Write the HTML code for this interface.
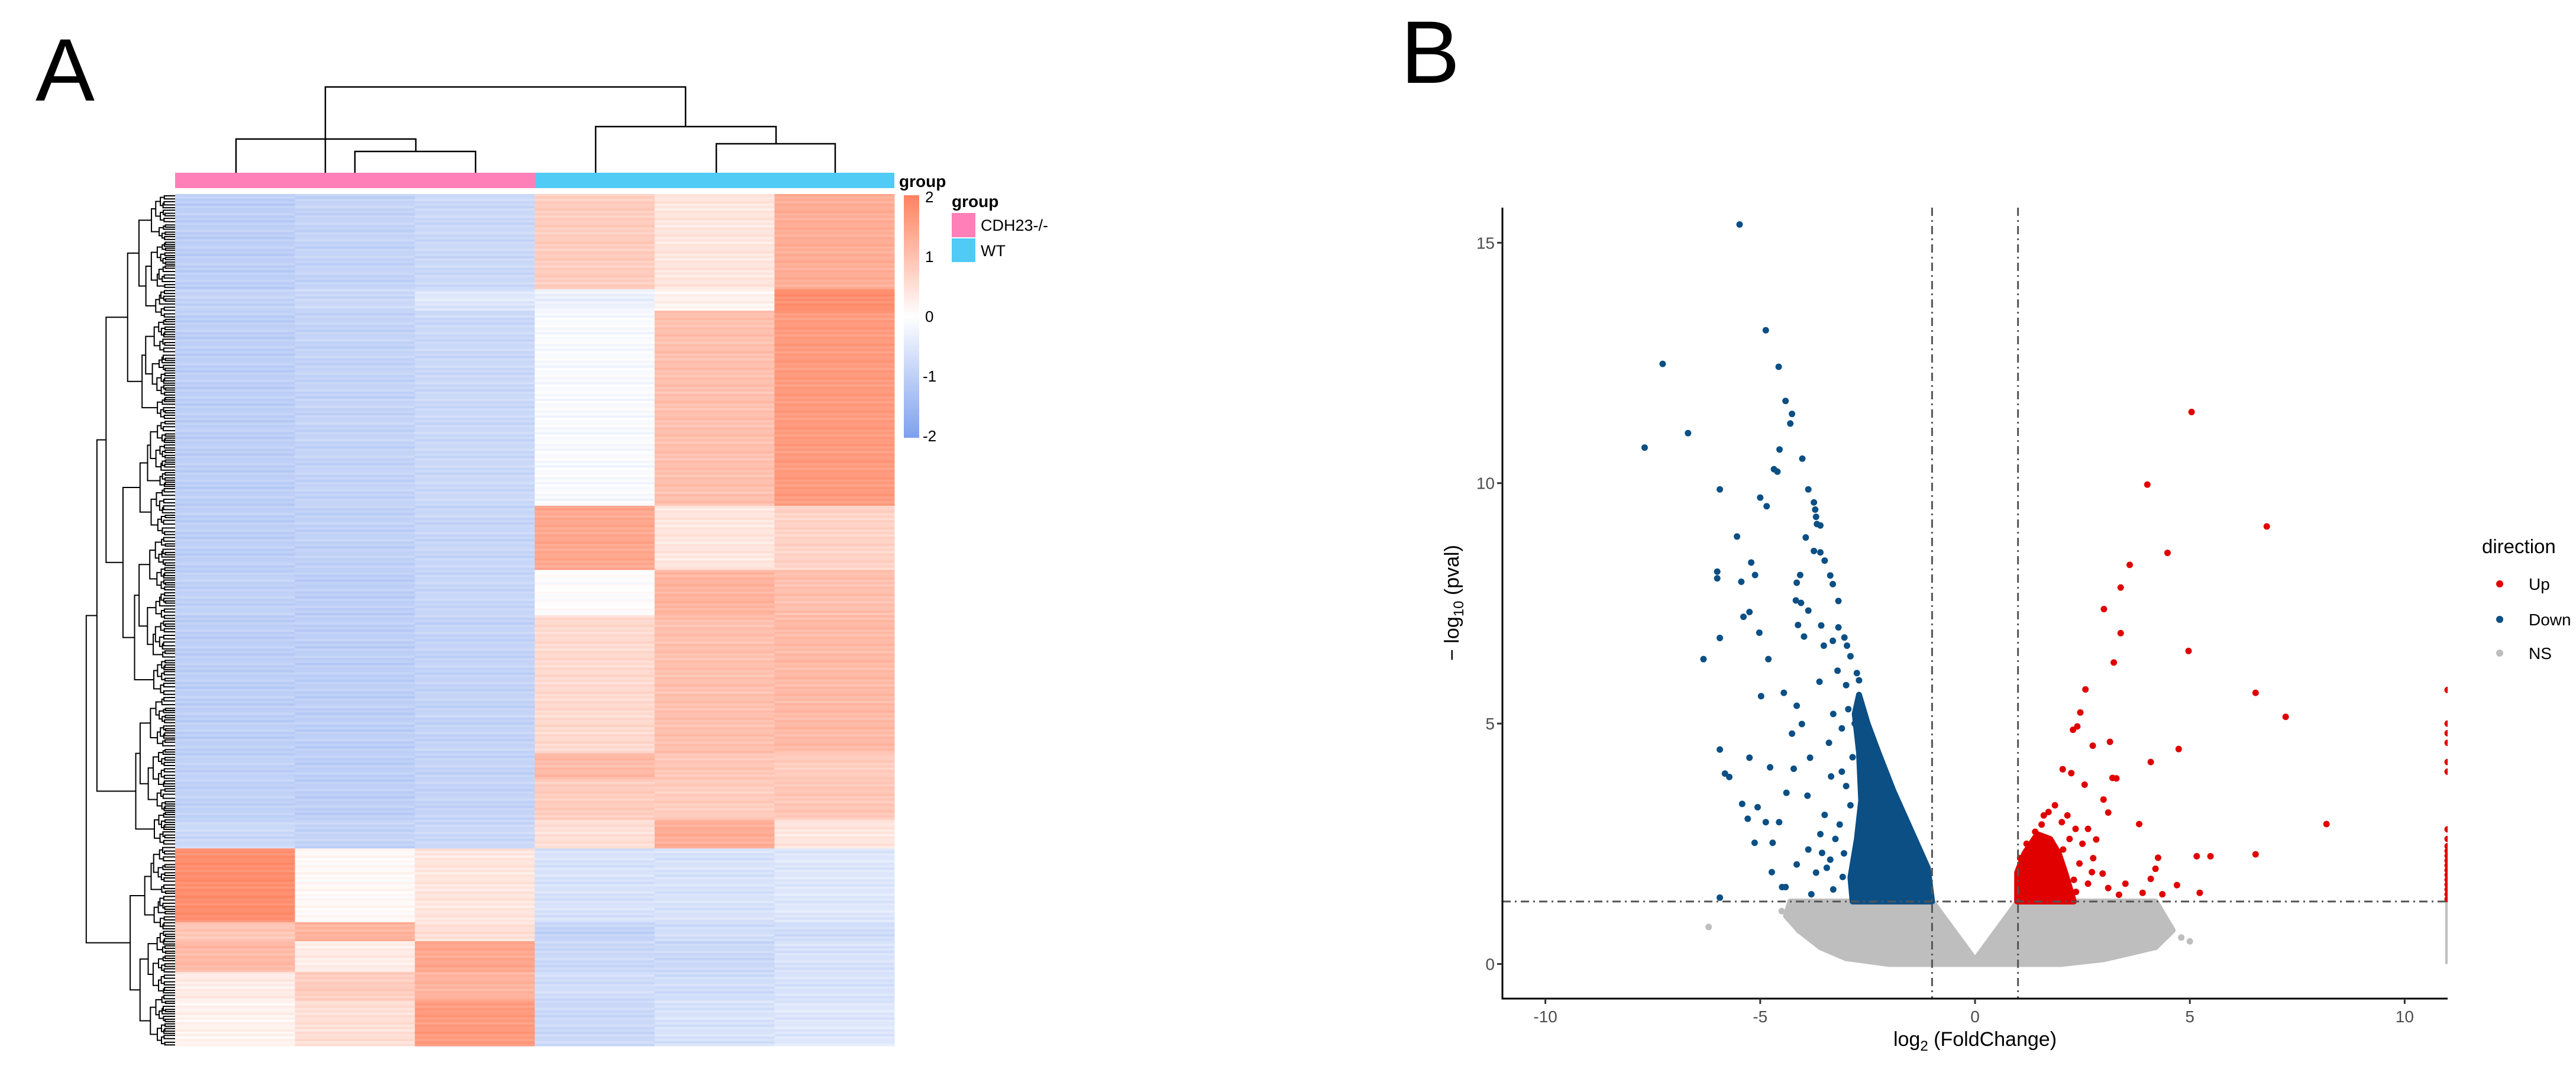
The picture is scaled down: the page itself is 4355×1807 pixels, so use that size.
<!DOCTYPE html>
<html><head><meta charset="utf-8"><style>
html,body{margin:0;padding:0;background:#fff;}
svg{display:block;font-family:"Liberation Sans",Arial,sans-serif;}
</style></head><body>
<svg id="fig" width="4355" height="1807" viewBox="0 0 4355 1807" xmlns="http://www.w3.org/2000/svg">
<rect width="4355" height="1807" fill="#fff"/>
<text x="60" y="170" font-size="150" fill="#000">A</text>
<text x="2368" y="140" font-size="150" fill="#000">B</text>
<g id="heat"></g>
<g id="rowtree" stroke="#000" stroke-width="2" fill="none"></g>
<g id="coltree" stroke="#000" stroke-width="2.5" fill="none">
  <polyline points="550,292 550,147 1159,147 1159,214" />
  <polyline points="399,292 399,235 703,235 703,256" />
  <polyline points="600,292 600,256 804,256 804,292" />
  <polyline points="1007,292 1007,214 1312,214 1312,243" />
  <polyline points="1211,292 1211,243 1412,243 1412,292" />
</g>
<rect x="296" y="292" width="610" height="26" fill="#FF7FB8"/>
<rect x="906" y="292" width="606" height="26" fill="#4FCBF5"/>
<text x="1520" y="316" font-size="28" fill="#000" font-weight="bold">group</text>
<defs><linearGradient id="cb" x1="0" y1="0" x2="0" y2="1">
<stop offset="0" stop-color="rgb(255,130,95)"/><stop offset="0.5" stop-color="#fff"/><stop offset="1" stop-color="rgb(125,160,238)"/></linearGradient></defs>
<rect x="1528" y="330" width="26" height="410" fill="url(#cb)"/>
<g font-size="26" fill="#000">
<text x="1564" y="342">2</text><text x="1564" y="443">1</text><text x="1564" y="544">0</text><text x="1560" y="645">-1</text><text x="1560" y="746">-2</text></g>
<text x="1609" y="350" font-size="28" font-weight="bold">group</text>
<rect x="1609" y="360" width="40" height="41" fill="#FF7FB8"/>
<rect x="1609" y="403" width="40" height="40" fill="#4FCBF5"/>
<text x="1658" y="390" font-size="27">CDH23-/-</text>
<text x="1658" y="433" font-size="27">WT</text>

<g id="volcano"></g>
<text x="3339" y="1768" font-size="34" fill="#000" text-anchor="middle">log<tspan font-size="24" dy="8">2</tspan><tspan dy="-8"> (FoldChange)</tspan></text>
<text transform="translate(2466,1019) rotate(-90)" font-size="34" fill="#000" text-anchor="middle">− log<tspan font-size="24" dy="8">10</tspan><tspan dy="-8"> (pval)</tspan></text>
<text x="4196" y="935" font-size="33">direction</text>
<circle cx="4226" cy="987" r="6" fill="#E00000"/>
<circle cx="4226" cy="1047" r="6" fill="#0B4F85"/>
<circle cx="4226" cy="1104" r="6" fill="#BEBEBE"/>
<text x="4275" y="997" font-size="28">Up</text>
<text x="4275" y="1057" font-size="28">Down</text>
<text x="4275" y="1114" font-size="28">NS</text>
</svg>
<script>
// ---------- Heatmap data ----------
const blockRows = [40,9,82,27,19,58,11,17,12,31,8,13,12,19];
const col1 = [-1.0,-0.9,-1.0,-1.0,-0.95,-1.0,-0.95,-0.95,-0.8,1.8,0.9,1.1,0.3,0.2];
const col2 = [-0.9,-0.8,-0.9,-0.95,-1.0,-1.0,-1.0,-1.0,-0.9,0.1,1.2,0.3,0.8,0.5];
const col3 = [-0.8,-0.5,-0.8,-0.85,-0.85,-0.9,-0.9,-0.9,-0.8,0.4,0.5,1.4,1.2,1.6];
const col4 = [0.8,-0.3,-0.1,1.4,0.0,0.6,1.1,0.8,0.5,-0.6,-0.9,-0.8,-0.7,-0.8];
const col5 = [0.4,0.2,1.0,0.4,1.2,1.0,0.9,0.8,1.3,-0.6,-0.7,-0.8,-0.7,-0.6];
const col6 = [1.3,1.8,1.6,0.7,1.0,1.1,0.8,0.9,0.4,-0.5,-0.7,-0.6,-0.6,-0.5];
const rowTexture = [0,0.6,-0.4,0.2,-0.7,0.4,-0.1];

const NS='http://www.w3.org/2000/svg';
function mk(tag,attrs,parent){const e=document.createElementNS(NS,tag);for(const k in attrs)e.setAttribute(k,attrs[k]);parent.appendChild(e);return e;}
function heatColor(v){v=Math.max(-2,Math.min(2,v));let t=Math.abs(v)/2;
  const c=v<0?[125,160,238]:[255,130,95];
  return 'rgb('+[0,1,2].map(i=>Math.round(255+(c[i]-255)*t)).join(',')+')';}
const hm=document.getElementById('heat');
const HX0=296,HX1=1512,HY0=328,HY1=1768;
const cols=[col1,col2,col3,col4,col5,col6];
const totalRows=blockRows.reduce((a,b)=>a+b,0);
const rowH=(HY1-HY0)/totalRows, colW=(HX1-HX0)/6;
let r=0;
blockRows.forEach((n,b)=>{
  for(let i=0;i<n;i++,r++){
    cols.forEach((arr,c)=>{
      const v=arr[b]+rowTexture[(r+c*3)%rowTexture.length]*0.22;
      const e=mk('rect',{x:HX0+c*colW,y:HY0+r*rowH,width:colW+0.5,height:rowH+0.6,fill:heatColor(v)},hm);
      
      
    });
  }
});
// ---------- Row dendrogram (structure) ----------
const rt=document.getElementById('rowtree');
const splits=[0.77,0.45,0.55,0.38,0.62,0.5,0.42,0.58];
let si=0;
function tree(y0,y1,depth){
  const span=y1-y0;
  if(span<7){ mk('line',{x1:HX0-10,y1:(y0+y1)/2,x2:HX0,y2:(y0+y1)/2},rt); return {y:(y0+y1)/2,x:HX0-10}; }
  const f=depth===0?0.765:splits[(si++)%splits.length];
  const ym=y0+span*f;
  const a=tree(y0,ym,depth+1), b=tree(ym,y1,depth+1);
  const x=HX0-Math.min(145,3.8*Math.sqrt(span))-6;
  mk('polyline',{points:`${a.x},${a.y} ${x},${a.y} ${x},${b.y} ${b.x},${b.y}`},rt);
  return {x:x,y:(a.y+b.y)/2};
}
tree(HY0,HY1,0);

// ---------- Volcano data ----------
const downX=[-5.48,-4.87,-7.27,-4.57,-4.41,-4.26,-4.30,-6.68,-7.69,-4.55,-4.02,-4.68,-4.60,-5.94,-3.88,-5.0,-4.85,-3.75,-3.72,-3.70,-3.68,-3.60,-5.54,-3.94,-3.75,-3.60,-3.50,-5.21,-6.0,-6.0,-5.12,-5.44,-4.07,-4.15,-3.37,-3.31,-3.18,-4.17,-4.05,-3.88,-5.25,-5.39,-4.12,-3.58,-3.18,-5.02,-3.98,-5.94,-3.52,-3.31,-3.04,-2.98,-4.81,-6.32,-4.98,-4.45,-4.15,-3.62,-4.03,-5.94,-4.26,-5.25,-4.77,-5.82,-5.72,-4.22,-3.84,-4.39,-5.42,-5.06,-5.29,-4.87,-4.56,-5.13,-4.71,-3.88,-4.73,-4.15,-4.49,-4.41,-5.94,-3.56,-3.81,-3.37,-3.08,-3.3,-3.4,-3.2,-3.5,-3.1,-3.6,-3.35,-3.7,-2.9,-3.0,-3.9,-3.25,-2.95,-3.45,-2.8,-2.85,-3.0,-3.15,-3.05,-2.7,-3.3,-2.75,-3.1,-2.9];
const downY=[15.38,13.18,12.48,12.42,11.71,11.44,11.24,11.04,10.74,10.70,10.51,10.29,10.24,9.87,9.87,9.70,9.52,9.6,9.45,9.3,9.15,9.12,8.89,8.87,8.59,8.56,8.39,8.35,8.16,8.02,8.09,7.95,8.09,7.93,8.08,7.9,7.55,7.56,7.51,7.35,7.32,7.22,7.05,7.04,7.0,6.89,6.81,6.78,6.62,6.72,6.79,6.62,6.34,6.34,5.57,5.64,5.37,5.87,4.99,4.46,4.79,4.29,4.09,3.96,3.89,4.06,4.29,3.56,3.33,3.26,3.02,2.95,2.95,2.52,2.52,2.38,1.91,2.07,1.6,1.6,1.38,2.31,1.45,2.17,1.81,5.2,4.6,6.1,3.1,4.9,2.7,3.9,1.9,6.4,5.8,3.5,2.6,5.3,2.0,5.0,4.3,3.7,2.9,2.3,5.9,1.55,6.05,4.0,3.3];
const downEnvX=[-1.0,-1.1,-1.5,-1.9,-2.25,-2.5,-2.7,-2.8,-2.7,-2.65,-2.75,-2.9,-2.85];
const downEnvY=[1.3,2.0,2.8,3.6,4.4,5.0,5.6,5.2,4.4,3.4,2.6,1.8,1.3];
const upX=[5.04,4.01,6.79,4.48,3.6,3.39,3.0,3.39,4.97,3.23,2.57,6.53,2.45,2.38,2.28,7.23,2.74,3.14,4.74,4.09,2.04,2.24,3.2,3.29,2.55,2.99,3.82,8.18,3.1,6.53,5.16,5.48,4.26,4.2,4.09,4.36,5.23,4.7,3.5,3.9,3.35,2.97,2.72,3.1,1.86,2.02,2.15,2.34,2.63,2.82,1.71,1.6,2.05,2.43,2.63,2.24,2.3,2.5,1.9,2.75,1.2,1.4,1.55,2.2,2.35,1.05];
const upY=[11.48,9.97,9.1,8.55,8.3,7.83,7.38,6.88,6.51,6.27,5.71,5.64,5.23,4.94,4.87,5.14,4.54,4.62,4.47,4.2,4.05,3.97,3.87,3.86,3.73,3.42,2.91,2.91,3.15,2.28,2.24,2.24,2.21,1.98,1.77,1.45,1.48,1.64,1.67,1.48,1.44,1.88,1.91,1.58,3.3,2.95,3.09,2.81,2.81,2.59,3.16,3.09,2.38,2.09,1.67,1.45,1.75,2.5,1.9,2.2,2.5,2.75,2.9,2.6,1.5,2.2];
const upEnvX=[0.98,0.98,1.15,1.45,1.75,1.95,2.1,2.2,2.3];
const upEnvY=[1.3,1.9,2.3,2.7,2.6,2.3,1.9,1.6,1.3];
const edgeUpY=[1.35,1.45,1.55,1.65,1.75,1.85,1.95,2.05,2.15,2.25,2.35,2.45,2.6,2.8,4.0,4.2,4.6,4.8,5.0,5.7];
const nsEnvX=[-4.3,-1.0,0,1.0,4.2,4.6,4.2,3.0,2.0,0.5,0,-0.5,-2.0,-3.0,-3.6,-4.1,-4.4];
const nsEnvY=[1.3,1.3,0.08,1.3,1.3,0.7,0.35,0.1,0.0,0.0,0.0,0.0,0.0,0.12,0.35,0.7,1.0];
const nsX=[-6.2,-4.1,-3.9,4.8,5.0,4.4,-4.5,3.9];
const nsY=[0.77,0.7,0.6,0.55,0.47,0.6,1.1,1.0];
const xTicks=[-10,-5,0,5,10];
const yTicks=[0,5,10,15];

const XD=[-11,11], YD=[-0.72,15.73];
const PX0=2540,PX1=4138,PY0=1688,PY1=351;
const sx=v=>PX0+(v-XD[0])/(XD[1]-XD[0])*(PX1-PX0);
const sy=v=>PY0+(v-YD[0])/(YD[1]-YD[0])*(PY1-PY0);
const vg=document.getElementById('volcano');
const clip=mk('clipPath',{id:'pc'},vg); mk('rect',{x:PX0,y:PY1,width:PX1-PX0,height:PY0-PY1},clip);
const pg=mk('g',{'clip-path':'url(#pc)'},vg);
function env(xs,ys,col,name){const e=mk('polygon',{points:xs.map((x,i)=>sx(x)+','+sy(ys[i])).join(' '),fill:col,stroke:col,'stroke-width':10,'stroke-linejoin':'round'},pg);
  
  }
function pts(xs,ys,col,name){xs.forEach((x,i)=>{const c=mk('circle',{cx:sx(x),cy:sy(ys[i]),r:5.5,fill:col},pg);
  
  });}
env(nsEnvX,nsEnvY,'#BEBEBE','ns-point-cloud');
pts(nsX,nsY,'#BEBEBE','ns-point');
const ln=mk('line',{x1:sx(11),y1:sy(0),x2:sx(11),y2:sy(1.3),stroke:'#BEBEBE','stroke-width':8},pg);


env(downEnvX,downEnvY,'#0B4F85','down-point-cloud');
pts(downX,downY,'#0B4F85','down-point');
env(upEnvX,upEnvY,'#E00000','up-point-cloud');
pts(upX,upY,'#E00000','up-point');
pts(edgeUpY.map(()=>11),edgeUpY,'#E00000','up-edge-point');
// thresholds
[[sx(-1),PY1,sx(-1),PY0,'threshold-left'],[sx(1),PY1,sx(1),PY0,'threshold-right'],[PX0,sy(1.3),PX1,sy(1.3),'threshold-pval']].forEach(a=>{
  const l=mk('line',{x1:a[0],y1:a[1],x2:a[2],y2:a[3],stroke:'#555','stroke-width':3,'stroke-dasharray':'14,7,3,7'},vg);
  
  });
// axes
const ax=mk('path',{d:`M${PX0},${PY1} V${PY0} H${PX1}`,stroke:'#000','stroke-width':3,fill:'none'},vg);


xTicks.forEach(t=>{mk('line',{x1:sx(t),y1:PY0,x2:sx(t),y2:PY0+9,stroke:'#333','stroke-width':3},vg);
  const tx=mk('text',{x:sx(t),y:PY0+40,'font-size':28,fill:'#4d4d4d','text-anchor':'middle'},vg);tx.textContent=t;
  
  });
yTicks.forEach(t=>{mk('line',{x1:PX0-9,y1:sy(t),x2:PX0,y2:sy(t),stroke:'#333','stroke-width':3},vg);
  const tx=mk('text',{x:PX0-13,y:sy(t)+10,'font-size':28,fill:'#4d4d4d','text-anchor':'end'},vg);tx.textContent=t;
  
  });
</script>
</body></html>
